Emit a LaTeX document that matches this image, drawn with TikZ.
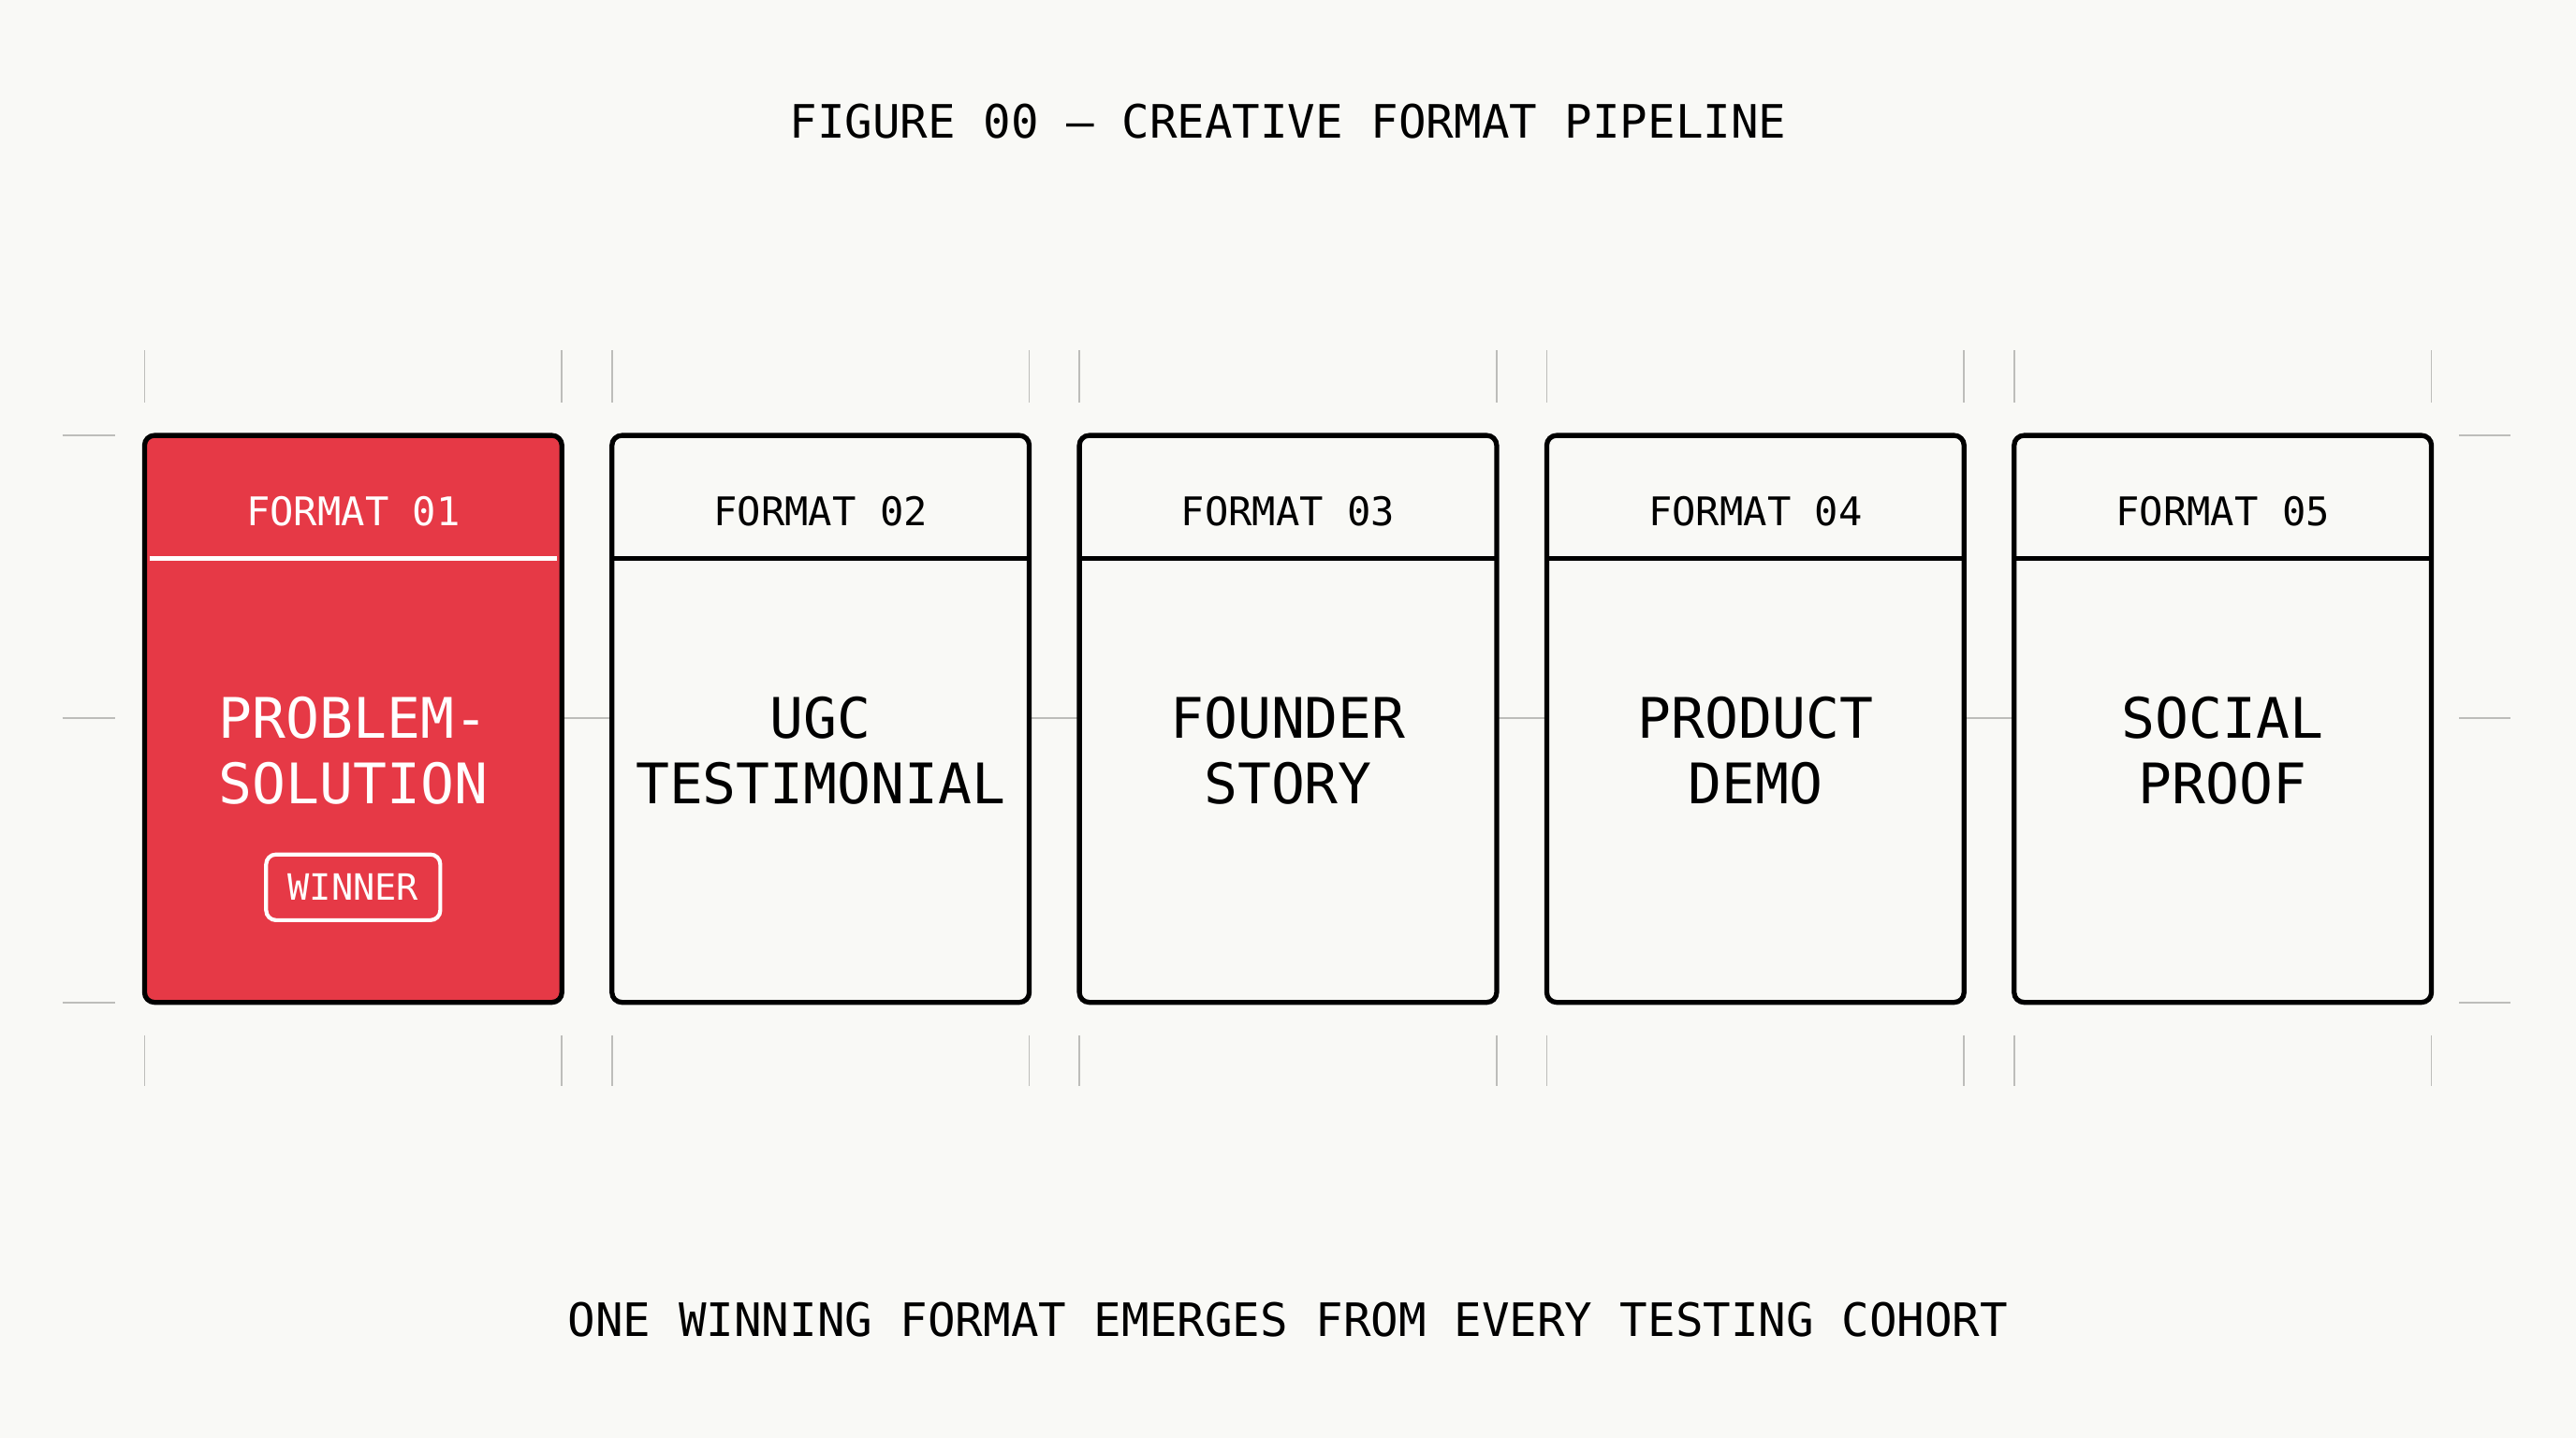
\documentclass[tikz,border=0pt]{standalone}
\usepackage{fontspec}
\setmonofont{DejaVu Sans Mono}
\usetikzlibrary{positioning}
\definecolor{paper}{HTML}{F9F9F6}
\definecolor{winred}{HTML}{E63946}
\definecolor{guide}{HTML}{BDBDBA}

\begin{document}
\begin{tikzpicture}[x=0.5pt,y=-0.5pt,font=\ttfamily,
	cardbox/.style={draw=black,line width=1.5pt,rounded corners=3pt},
	guideline/.style={draw=guide,line width=0.5pt},
	headtext/.style={font=\ttfamily\fontsize{12}{14}\selectfont},
	bigtext/.style={font=\ttfamily\fontsize{17}{20}\selectfont,align=center}]

	\fill[paper] (0,0) rectangle (1568,875);
	\useasboundingbox (0,0) rectangle (1568,875);

	\node[font=\ttfamily\fontsize{14}{16}\selectfont] (title) at (784,74) {FIGURE 00 — CREATIVE FORMAT PIPELINE};
	\node[font=\ttfamily\fontsize{14}{16}\selectfont] (caption) at (784,803) {ONE WINNING FORMAT EMERGES FROM EVERY TESTING COHORT};

	% outer guides
	\foreach \y in {265,437,610} {
		\draw[guideline] (38,\y) -- (70,\y);
		\draw[guideline] (1497,\y) -- (1528,\y);
	}

	% cards
	\foreach \i/\lx/\lineA/\lineB in {1/88/PROBLEM-/SOLUTION,2/372.5/UGC/TESTIMONIAL,3/657/FOUNDER/STORY,4/941.5/PRODUCT/DEMO,5/1226/SOCIAL/PROOF} {
		\pgfmathsetmacro{\rx}{\lx+254}
		\draw[guideline] (\lx,213) -- (\lx,245);
		\draw[guideline] (\rx,213) -- (\rx,245);
		\draw[guideline] (\lx,630) -- (\lx,661);
		\draw[guideline] (\rx,630) -- (\rx,661);
		\ifnum\i<5
			\draw[guideline] (\rx,437) -- (\rx+30,437);
		\fi
		\ifnum\i=1
			\filldraw[cardbox,fill=winred] (\lx,265) rectangle (\rx,610);
			\draw[white,line width=1.5pt] (\lx+3,340) -- (\rx-3,340);
			\node[headtext,text=white] (head\i) at (\lx+127,311) {FORMAT 01};
			\node[bigtext,text=white] (name\i) at (\lx+127,457) {\lineA\\\lineB};
			\node[draw=white,line width=1.2pt,rounded corners=3pt,text=white,
				font=\ttfamily\fontsize{11}{13}\selectfont,minimum width=53pt,
				minimum height=20pt,inner xsep=5pt] (badge) at (\lx+127,540) {WINNER};
		\else
			\filldraw[cardbox,fill=paper] (\lx,265) rectangle (\rx,610);
			\draw[line width=1.5pt] (\lx,340) -- (\rx,340);
			\node[headtext] (head\i) at (\lx+127,311) {FORMAT 0\i};
			\node[bigtext] (name\i) at (\lx+127,457) {\lineA\\\lineB};
		\fi
	}
\end{tikzpicture}
\end{document}
